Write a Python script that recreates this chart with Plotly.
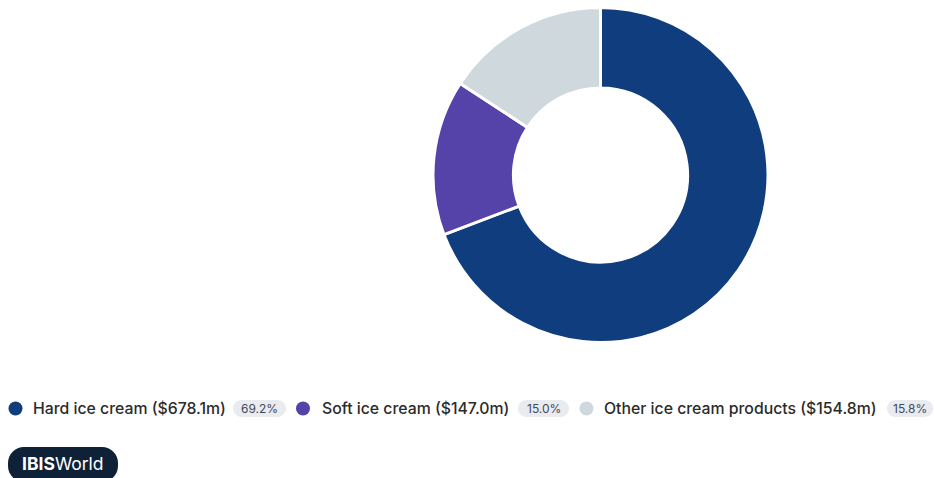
import plotly.graph_objects as go

# Revenue by product segment
categories = ["Hard ice cream", "Soft ice cream", "Other ice cream products"]
revenue_m = [678.1, 147.0, 154.8]
share_pct = [69.2, 15.0, 15.8]
colors = ["#103D7D", "#5643A9", "#CFD8DD"]

W, H = 934, 478

fig = go.Figure()

# Donut chart
cx, cy, r = 600.5, 175.0, 167.5
fig.add_trace(go.Pie(
    labels=categories,
    values=revenue_m,
    hole=0.52,
    sort=False,
    direction="clockwise",
    rotation=0,
    marker=dict(colors=colors, line=dict(color="white", width=3)),
    textinfo="none",
    hoverinfo="skip",
    showlegend=False,
    domain=dict(x=[(cx - r) / W, (cx + r) / W], y=[1 - (cy + r) / H, 1 - (cy - r) / H]),
))

# Custom legend row: dot, label, percentage pill
legend_y = 408.5
dot_x = [15.5, 303.0, 586.5]
label_x = [31.0, 320.0, 602.0]
pill_x = [(233.0, 286.0), (518.0, 569.0), (887.0, 933.0)]

fig.add_trace(go.Scatter(
    x=dot_x, y=[legend_y] * 3, mode="markers",
    marker=dict(size=14, color=colors, line=dict(width=0)),
    hoverinfo="skip", showlegend=False,
))


def rounded_rect(x0, y0, x1, y1, rad):
    k = 0.5523 * rad
    return (f"M{x0 + rad},{y0} L{x1 - rad},{y0} "
            f"C{x1 - rad + k},{y0} {x1},{y0 + rad - k} {x1},{y0 + rad} "
            f"L{x1},{y1 - rad} "
            f"C{x1},{y1 - rad + k} {x1 - rad + k},{y1} {x1 - rad},{y1} "
            f"L{x0 + rad},{y1} "
            f"C{x0 + rad - k},{y1} {x0},{y1 - rad + k} {x0},{y1 - rad} "
            f"L{x0},{y0 + rad} "
            f"C{x0},{y0 + rad - k} {x0 + rad - k},{y0} {x0 + rad},{y0} Z")


shapes = []
annotations = []
for i, name in enumerate(categories):
    annotations.append(dict(
        x=label_x[i], y=legend_y, xref="x", yref="y",
        text=f"{name} (${revenue_m[i]:.1f}m)", showarrow=False,
        xanchor="left", yanchor="middle",
        font=dict(family="Inter", size=15.8, color="#2B2B2B", weight=500),
    ))
    px0, px1 = pill_x[i]
    shapes.append(dict(
        type="path", xref="x", yref="y",
        path=rounded_rect(px0, legend_y - 8.5, px1, legend_y + 8.5, 8.5),
        fillcolor="#E9EBEE", line=dict(width=0), layer="below",
    ))
    annotations.append(dict(
        x=(px0 + px1) / 2, y=legend_y, xref="x", yref="y",
        text=f"{share_pct[i]:.1f}%", showarrow=False,
        xanchor="center", yanchor="middle",
        font=dict(family="Inter", size=12, color="#3E4A5A"),
    ))

# Brand badge
shapes.append(dict(
    type="path", xref="x", yref="y",
    path=rounded_rect(8, 447, 118, 482, 16),
    fillcolor="#0E2136", line=dict(width=0), layer="below",
))
annotations.append(dict(
    x=62.5, y=463.5, xref="x", yref="y",
    text="<b>IBIS</b>World", showarrow=False,
    xanchor="center", yanchor="middle",
    font=dict(family="Inter", size=17.5, color="white"),
))

fig.update_layout(
    width=W, height=H,
    margin=dict(l=0, r=0, t=0, b=0),
    paper_bgcolor="white", plot_bgcolor="rgba(0,0,0,0)",
    xaxis=dict(range=[0, W], visible=False, fixedrange=True),
    yaxis=dict(range=[H, 0], visible=False, fixedrange=True),
    shapes=shapes,
    annotations=annotations,
    showlegend=False,
)

fig.write_html("out.html")
